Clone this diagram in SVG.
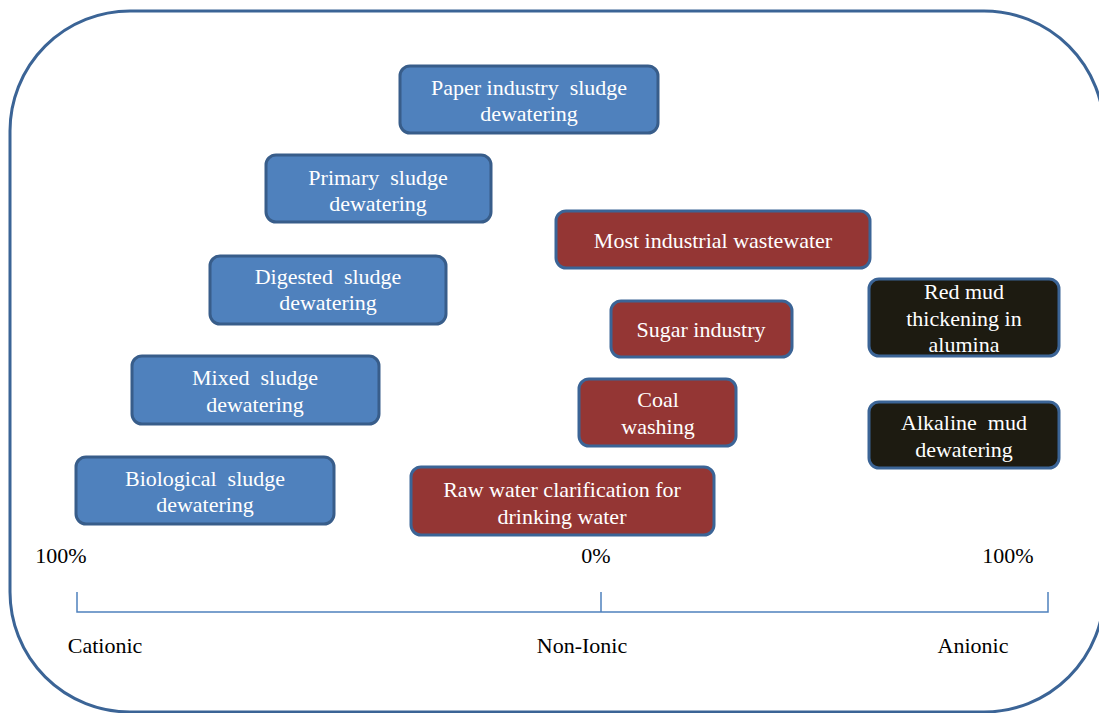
<svg xmlns="http://www.w3.org/2000/svg" width="1099" height="713" viewBox="0 0 1099 713">
<style>
text{font-family:"Liberation Serif","Times New Roman",serif;font-size:22px;text-anchor:middle;white-space:pre}
.w{fill:#ffffff}
.k{fill:#000000}
.box{stroke:#3B6496;stroke-width:3}
.blue{fill:#4F81BD;stroke:#385D8A}
.red{fill:#943634}
.dark{fill:#1D1B11}
.axis{stroke:#4F81BD;stroke-width:1.5;fill:none}
</style>
<rect x="10" y="11" width="1094" height="701" rx="120" ry="120" fill="#ffffff" stroke="#3B6496" stroke-width="3"/>
<g id="node-paper"><rect class="box blue" x="400" y="66" width="258" height="67" rx="10"/><text class="w" x="529" y="95">Paper industry  sludge</text><text class="w" x="529" y="121">dewatering</text></g>
<g id="node-primary"><rect class="box blue" x="266" y="155" width="225" height="67" rx="10"/><text class="w" x="378" y="185">Primary  sludge</text><text class="w" x="378" y="211">dewatering</text></g>
<g id="node-digested"><rect class="box blue" x="210" y="256" width="236" height="68" rx="10"/><text class="w" x="328" y="284">Digested  sludge</text><text class="w" x="328" y="310">dewatering</text></g>
<g id="node-mixed"><rect class="box blue" x="132" y="356" width="247" height="68" rx="10"/><text class="w" x="255" y="385">Mixed  sludge</text><text class="w" x="255" y="412">dewatering</text></g>
<g id="node-biological"><rect class="box blue" x="76" y="457" width="258" height="67" rx="10"/><text class="w" x="205" y="486">Biological  sludge</text><text class="w" x="205" y="512">dewatering</text></g>
<g id="node-industrial"><rect class="box red" x="556" y="211" width="314" height="57" rx="10"/><text class="w" x="713" y="248">Most industrial wastewater</text></g>
<g id="node-sugar"><rect class="box red" x="611" y="301" width="181" height="56" rx="10"/><text class="w" x="701" y="337">Sugar industry</text></g>
<g id="node-coal"><rect class="box red" x="579" y="379" width="157" height="67" rx="10"/><text class="w" x="658" y="407">Coal</text><text class="w" x="658" y="434">washing</text></g>
<g id="node-raw"><rect class="box red" x="411" y="467" width="303" height="68" rx="10"/><text class="w" x="562" y="497">Raw water clarification for</text><text class="w" x="562" y="524">drinking water</text></g>
<g id="node-redmud"><rect class="box dark" x="869" y="279" width="190" height="77" rx="10"/><text class="w" x="964" y="299">Red mud</text><text class="w" x="964" y="326">thickening in</text><text class="w" x="964" y="352">alumina</text></g>
<g id="node-alkaline"><rect class="box dark" x="869" y="402" width="190" height="66" rx="10"/><text class="w" x="964" y="430">Alkaline  mud</text><text class="w" x="964" y="457">dewatering</text></g>
<g id="connectors">
<path class="axis" d="M77 592V612H1048V592M601 592V612"/>
</g>
<g id="labels">
<text class="k" x="61" y="563">100%</text>
<text class="k" x="596" y="563">0%</text>
<text class="k" x="1008" y="563">100%</text>
<text class="k" x="105" y="653">Cationic</text>
<text class="k" x="582" y="653">Non-Ionic</text>
<text class="k" x="973" y="653">Anionic</text>
</g>
</svg>
